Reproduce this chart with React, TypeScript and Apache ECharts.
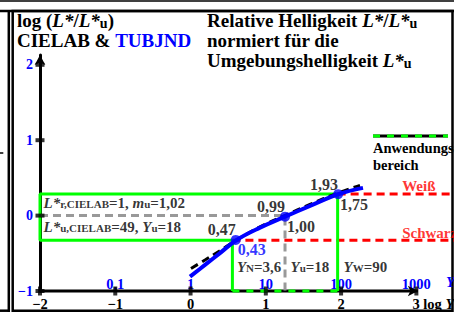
import React, { useEffect, useRef } from 'react';
import * as echarts from 'echarts';

const FONT = '"Liberation Serif", "Times New Roman", serif';
const BLUE = '#0000ff';
const GREEN = '#00ff00';
const RED = '#ff0000';
const GRAY = '#999999';

// axis ticks and tick labels
const xTicks = [-2, -1, 0, 1, 2, 3];
const xTickLabels = ['\u22122', '\u22121', '0', '1', '2', '3'];
const yTicks = [-1, 0, 1, 2];
const yTickLabels = ['\u22121', '0', '1', '2'];
const lumTicks = [-1, 0, 1, 2, 3];
const lumLabels = ['0,1', '1', '10', '100', '1000'];

// curves: x = log Y, y = log(L*/L*u)
const cielabX = [0.006, 0.192, 0.391, 0.613, 0.923, 1.255, 1.587, 1.959, 2.251];
const cielabY = [-0.701, -0.589, -0.465, -0.323, -0.15, 0.002, 0.148, 0.301, 0.4];
const tubjndX = [-0.007, 0.192, 0.391, 0.613, 0.923, 1.255, 1.587, 1.963, 2.291];
const tubjndY = [-0.81, -0.654, -0.497, -0.323, -0.16, -0.014, 0.128, 0.284, 0.368];

// marked points
const pointX = [0.6, 1.255, 1.96];
const pointY = [-0.323, -0.014, 0.284];
const cielabPointLabels = ['0,47', '0,99', '1,93'];
const tubjndPointLabels = ['0,43', '1,00', '1,75'];
const tubjndPointColors = [BLUE, '#000', '#000'];

// reference levels
const logYN = 0.556; // Y_N = 3,6
const logYu = 1.255; // Y_u = 18
const logYW = 1.954; // Y_W = 90
const logWhite = 0.2856; // 1,93
const logBlack = -0.328; // 0,47

const xMin = -2;
const xMax = 3.5;
const yMin = -1;
const yMax = 2.13;
const xArrowEnd = 3.02;

// annotations (anchor in data units, left edge / vertical middle)
const noteTexts = [
  '{i|Y}{s|N}{n|=3,6}',
  '{i|Y}{s|u}{n|=18}',
  '{i|Y}{s|W}{n|=90}',
  '{i|L*}{s|r,CIELAB}{n|=1, }{i|m}{s|u}{n|=1,02}',
  '{i|L*}{s|u,CIELAB}{n|=49, }{i|Y}{s|u}{n|=18}',
  '{r|Wei\u00df}',
  '{r|Schwarz}',
];
const noteX = [0.61, 1.321, 2.025, -1.96, -1.96, 2.805, 2.805];
const noteY = [-0.68, -0.68, -0.68, 0.168, -0.15, 0.394, -0.23];

const b = (size: number, extra: any = {}) => ({
  fontFamily: FONT,
  fontWeight: 'bold',
  fontSize: size,
  color: '#000',
  lineHeight: size - 1,
  ...extra,
});

const labelRich = {
  n: b(15),
  i: b(15, { fontStyle: 'italic' }),
  s: b(11, { lineHeight: 5, verticalAlign: 'bottom' }),
  r: b(15, { color: RED }),
};

const zb = (size: number, extra: any = {}) => ({
  fontFamily: FONT,
  fontWeight: 'bold',
  fontSize: size,
  fill: '#000',
  lineHeight: 20,
  ...extra,
});
const titleRich = {
  n: zb(19),
  i: zb(19, { fontStyle: 'italic' }),
  s: zb(14, { lineHeight: 8, verticalAlign: 'bottom' }),
  b: zb(19, { fill: BLUE }),
};

const pairs = (xs: number[], ys: number[]) => xs.map((x, i) => [x, ys[i]]);

function buildOption(): any {
  const lineBase = {
    type: 'line',
    symbol: 'none',
    silent: true,
    clip: false,
    animation: false,
  };
  return {
    animation: false,
    backgroundColor: '#fff',
    grid: { left: 40, right: 0, top: 55, bottom: 23, containLabel: false, outerBoundsMode: 'none' },
    xAxis: [
      {
        type: 'value',
        min: xMin,
        max: xMax,
        interval: 1,
        position: 'bottom',
        axisLine: { show: false, onZero: false },
        axisTick: { show: false },
        splitLine: { show: false },
        axisLabel: {
          margin: 6,
          color: '#000',
          fontFamily: FONT,
          fontWeight: 'bold',
          fontSize: 14.5,
          rich: {
            n: b(14.5),
            i: b(14.5, { fontStyle: 'italic' }),
            p: b(14.5, { width: 34 }),
          },
          formatter: (v: number) => {
            const i = xTicks.indexOf(Math.round(v * 1000) / 1000);
            if (i < 0) return '';
            if (xTicks[i] === 3) return '{p|}{n|' + xTickLabels[i] + ' log }{i|Y}';
            return '{n|' + xTickLabels[i] + '}';
          },
        },
      },
      {
        type: 'value',
        min: xMin,
        max: xMax,
        interval: 1,
        position: 'bottom',
        axisLine: { show: false, onZero: false },
        axisTick: { show: false },
        splitLine: { show: false },
        axisLabel: {
          inside: true,
          margin: 1,
          color: BLUE,
          fontFamily: FONT,
          fontWeight: 'bold',
          fontSize: 14.5,
          lineHeight: 13,
          formatter: (v: number) => {
            const i = lumTicks.indexOf(Math.round(v * 1000) / 1000);
            return i < 0 ? '' : lumLabels[i];
          },
        },
      },
    ],
    yAxis: {
      type: 'value',
      min: yMin,
      max: yMax,
      interval: 1,
      axisLine: {
        show: true,
        onZero: false,
        symbol: ['none', 'arrow'],
        symbolSize: [8, 10],
        lineStyle: { color: '#000', width: 3 },
      },
      axisTick: { show: false },
      splitLine: { show: false },
      axisLabel: {
        margin: 7,
        color: BLUE,
        fontFamily: FONT,
        fontWeight: 'bold',
        fontSize: 14,
        formatter: (v: number) => {
          const i = yTicks.indexOf(Math.round(v * 1000) / 1000);
          return i < 0 ? '' : yTickLabels[i];
        },
      },
    },
    series: [
      // x axis line with arrow
      {
        ...lineBase,
        z: 2,
        symbol: 'arrow',
        symbolSize: [8, 10],
        symbolRotate: -90,
        itemStyle: { color: '#000' },
        lineStyle: { color: '#000', width: 3 },
        data: [{ value: [xMin, yMin], symbol: 'none' }, { value: [xArrowEnd, yMin] }],
      },
      // gray reference (Y_u)
      {
        ...lineBase,
        z: 3,
        lineStyle: { color: GRAY, width: 3, type: [8, 5] },
        data: [[xMin, 0], [logYu, 0], [logYu, yMin]],
      },
      // red white / black levels
      {
        ...lineBase,
        z: 3,
        lineStyle: { color: RED, width: 3, type: [8, 5] },
        data: [[logYW, logWhite], [xMax, logWhite]],
      },
      {
        ...lineBase,
        z: 3,
        lineStyle: { color: RED, width: 3, type: [8, 5] },
        data: [[logYN, logBlack], [xMax, logBlack]],
      },
      // application range (green)
      {
        ...lineBase,
        z: 4,
        lineStyle: { color: GREEN, width: 3 },
        data: [
          [logYN, yMin],
          [logYN, logBlack],
          [xMin, logBlack],
          [xMin, logWhite],
          [logYW, logWhite],
          [logYW, yMin],
        ],
      },
      {
        ...lineBase,
        z: 4,
        lineStyle: { color: GREEN, width: 3, type: [7, 7] },
        data: [[logYN, yMin], [logYW, yMin]],
      },
      // axis ticks
      {
        type: 'scatter',
        silent: true,
        z: 5,
        symbol: 'rect',
        symbolSize: [4, 9],
        itemStyle: { color: '#000' },
        data: xTicks.map((v) => [v, yMin]),
      },
      {
        type: 'scatter',
        silent: true,
        z: 5,
        symbol: 'rect',
        symbolSize: [9, 4],
        itemStyle: { color: '#000' },
        data: yTicks.map((v) => [xMin, v]),
      },
      // CIELAB (black dashed)
      {
        ...lineBase,
        z: 6,
        smooth: 0.4,
        lineStyle: { color: '#000', width: 3, type: [8, 5] },
        data: pairs(cielabX, cielabY),
      },
      // TUBJND (blue)
      {
        ...lineBase,
        z: 7,
        smooth: 0.4,
        lineStyle: { color: BLUE, width: 4 },
        data: pairs(tubjndX, tubjndY),
      },
      // points with CIELAB labels
      {
        type: 'scatter',
        silent: true,
        z: 8,
        symbol: 'circle',
        symbolSize: 10,
        itemStyle: { color: BLUE },
        label: {
          show: true,
          position: 'inside',
          align: 'right',
          verticalAlign: 'middle',
          offset: [0, -10],
          fontFamily: FONT,
          fontWeight: 'bold',
          fontSize: 16,
          color: '#000',
          formatter: (p: any) => cielabPointLabels[p.dataIndex],
        },
        data: pairs(pointX, pointY),
      },
      // TUBJND labels
      {
        type: 'scatter',
        silent: true,
        z: 8,
        symbol: 'circle',
        symbolSize: 1,
        itemStyle: { color: 'rgba(0,0,0,0)' },
        label: {
          show: true,
          position: 'inside',
          align: 'left',
          verticalAlign: 'middle',
          offset: [2, 10],
          fontFamily: FONT,
          fontWeight: 'bold',
          fontSize: 16,
          formatter: (p: any) => tubjndPointLabels[p.dataIndex],
        },
        data: pointX.map((x, i) => ({
          value: [x, pointY[i]],
          label: { color: tubjndPointColors[i] },
        })),
      },
      // annotations
      {
        type: 'scatter',
        silent: true,
        z: 9,
        symbol: 'circle',
        symbolSize: 1,
        itemStyle: { color: 'rgba(0,0,0,0)' },
        label: {
          show: true,
          position: 'right',
          distance: 0,
          verticalAlign: 'middle',
          rich: labelRich,
          formatter: (p: any) => noteTexts[p.dataIndex],
        },
        data: pairs(noteX, noteY),
      },
    ],
    graphic: [
      // frame
      { type: 'line', silent: true, shape: { x1: 0, y1: 1, x2: 454, y2: 1 }, style: { stroke: '#000', lineWidth: 1.5 } },
      { type: 'line', silent: true, shape: { x1: 0, y1: 11, x2: 454, y2: 11 }, style: { stroke: '#000', lineWidth: 2.5 } },
      { type: 'line', silent: true, shape: { x1: 8.8, y1: 11, x2: 8.8, y2: 312 }, style: { stroke: '#000', lineWidth: 2.5 } },
      { type: 'line', silent: true, shape: { x1: 0, y1: 310.7, x2: 10, y2: 310.7 }, style: { stroke: '#000', lineWidth: 2.5 } },
      { type: 'line', silent: true, shape: { x1: 0, y1: 153, x2: 3.3, y2: 153 }, style: { stroke: '#000', lineWidth: 1.5 } },
      {
        type: 'rect',
        silent: true,
        shape: { x: 12.7, y: 11, width: 439.8, height: 299.7 },
        style: { fill: 'none', stroke: '#000', lineWidth: 2.5 },
      },
      // titles
      {
        type: 'text',
        silent: true,
        x: 17,
        y: 10,
        z: 100,
        style: {
          text: '{n|log (}{i|L*}{n|/}{i|L*}{s|u}{n|)}\n{n|CIELAB & }{b|TUBJND}',
          rich: titleRich,
          verticalAlign: 'top',
          textVerticalAlign: 'top',
        },
      },
      {
        type: 'text',
        silent: true,
        x: 207,
        y: 10,
        z: 100,
        style: {
          text:
            '{n|Relative Helligkeit }{i|L*}{n|/}{i|L*}{s|u}\n{n|normiert f\u00fcr die}\n{n|Umgebungshelligkeit }{i|L*}{s|u}',
          rich: titleRich,
          verticalAlign: 'top',
          textVerticalAlign: 'top',
        },
      },
      // legend
      { type: 'line', silent: true, z: 100, shape: { x1: 373, y1: 136, x2: 448, y2: 136 }, style: { stroke: '#000', lineWidth: 3 } },
      {
        type: 'line',
        silent: true,
        z: 101,
        shape: { x1: 373, y1: 136, x2: 448, y2: 136 },
        style: { stroke: GREEN, lineWidth: 3, lineDash: [7, 7] },
      },
      {
        type: 'text',
        silent: true,
        x: 373,
        y: 140,
        z: 100,
        style: {
          text: 'Anwendungs-\nbereich',
          font: 'bold 14.5px ' + FONT,
          fill: '#000',
          lineHeight: 16.5,
          verticalAlign: 'top',
          textVerticalAlign: 'top',
        },
      },
      {
        type: 'text',
        silent: true,
        x: 446,
        y: 282,
        z: 100,
        style: {
          text: 'Y',
          font: 'italic bold 15px ' + FONT,
          fill: BLUE,
          verticalAlign: 'middle',
          textVerticalAlign: 'middle',
        },
      },
    ],
  };
}

export default function App() {
  const ref = useRef<HTMLDivElement>(null);
  useEffect(() => {
    document.body.style.margin = '0';
    const chart = echarts.init(ref.current as HTMLDivElement, null, { renderer: 'svg', width: 454, height: 314 });
    chart.setOption(buildOption());
    return () => chart.dispose();
  }, []);
  return (
    <div
      ref={ref}
      style={{ position: 'absolute', left: 0, top: 0, width: 454, height: 314, background: '#fff' }}
    />
  );
}
